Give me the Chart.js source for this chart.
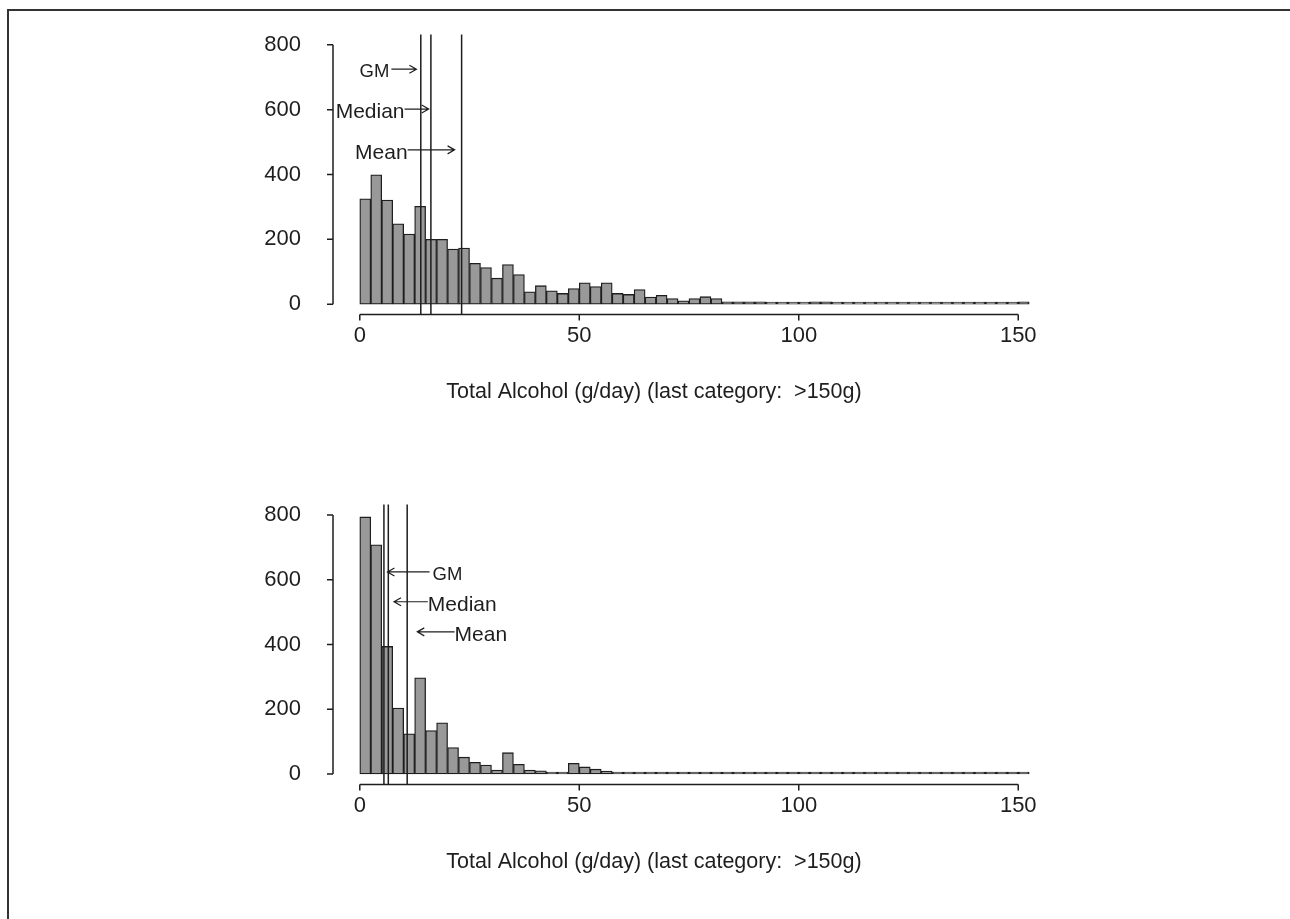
<!DOCTYPE html>
<html>
<head>
<meta charset="utf-8">
<script src="https://cdn.jsdelivr.net/npm/chart.js@4"></script>
<style>
  html, body { margin: 0; padding: 0; background: #fff; }
  #page { position: relative; width: 1290px; height: 919px; overflow: hidden; }
  #frame { position: absolute; left: 7px; top: 9px; width: 1300px; height: 930px;
           border-top: 2px solid #333; border-left: 2px solid #333; }
  canvas { position: absolute; left: 0; }
</style>
</head>
<body>
<div id="page">
  <div id="frame"></div>
  <canvas id="upper" width="1290" height="460" style="top:0"></canvas>
  <canvas id="lower" width="1290" height="459" style="top:460px"></canvas>
</div>
<script>
// bin midpoints, g/day (2.5 g bins, last bin = >150g)
const binMid = [1.25, 3.75, 6.25, 8.75, 11.25, 13.75, 16.25, 18.75, 21.25, 23.75,
  26.25, 28.75, 31.25, 33.75, 36.25, 38.75, 41.25, 43.75, 46.25, 48.75,
  51.25, 53.75, 56.25, 58.75, 61.25, 63.75, 66.25, 68.75, 71.25, 73.75,
  76.25, 78.75, 81.25, 83.75, 86.25, 88.75, 91.25, 93.75, 96.25, 98.75,
  101.25, 103.75, 106.25, 108.75, 111.25, 113.75, 116.25, 118.75, 121.25, 123.75,
  126.25, 128.75, 131.25, 133.75, 136.25, 138.75, 141.25, 143.75, 146.25, 148.75,
  151.25];

const countsUpper = [325, 399, 321, 248, 216, 302, 200, 200, 170, 173,
  126, 113, 80, 122, 91, 38, 57, 41, 33, 48,
  66, 54, 66, 33, 30, 45, 22, 27, 17, 10,
  17, 23, 17, 7, 7, 7, 7, 3, 3, 3,
  3, 7, 7, 2, 2, 1, 2, 2, 1, 2,
  2, 1, 1, 2, 1, 1, 1, 2, 2, 2,
  7];

const countsLower = [794, 708, 394, 204, 124, 297, 134, 158, 82, 52,
  36, 28, 12, 66, 30, 12, 10, 6, 5, 33,
  22, 15, 9, 4, 6, 5, 5, 4, 2, 2,
  1, 3, 1, 1, 4, 1, 1, 2, 1, 1,
  1, 2, 2, 2, 1, 1, 1, 1, 1, 1,
  1, 1, 1, 1, 1, 1, 1, 1, 1, 1,
  4];

const xTicks = [0, 50, 100, 150];
const yTicks = [0, 200, 400, 600, 800];
const xLabel = 'Total Alcohol (g/day) (last category:  >150g)';

const statNames = ['GM', 'Median', 'Mean'];
const statsUpper = [13.9, 16.2, 23.2];
const statsLower = [5.5, 6.5, 10.8];

// arrow placement for the labels, in data units
const notesUpper = [
  { from: 7.2, to: 12.9, y: 725 },
  { from: 10.2, to: 15.7, y: 602 },
  { from: 10.9, to: 21.6, y: 476 }
];
const notesLower = [
  { from: 15.9, to: 6.3, y: 624 },
  { from: 15.5, to: 7.8, y: 532 },
  { from: 21.6, to: 13.1, y: 439 }
];

const ink = '#1e1e1e';
const family = '"Liberation Sans", Arial, sans-serif';

function arrow(ctx, x0, x1, y) {
  const dir = x1 > x0 ? 1 : -1;
  ctx.beginPath();
  ctx.moveTo(x0, y);
  ctx.lineTo(x1, y);
  ctx.moveTo(x1 - dir * 7, y - 4);
  ctx.lineTo(x1, y);
  ctx.lineTo(x1 - dir * 7, y + 4);
  ctx.stroke();
}

const rStyle = {
  id: 'rStyle',
  afterDraw(chart, args, opts) {
    const { ctx, chartArea: a, scales: { x, y } } = chart;
    ctx.save();
    ctx.strokeStyle = ink;
    ctx.lineWidth = 1.5;

    // axes like R: lines only between first and last tick
    ctx.beginPath();
    ctx.moveTo(x.getPixelForValue(xTicks[0]), a.bottom);
    ctx.lineTo(x.getPixelForValue(xTicks[xTicks.length - 1]), a.bottom);
    xTicks.forEach(v => {
      const px = x.getPixelForValue(v);
      ctx.moveTo(px, a.bottom);
      ctx.lineTo(px, a.bottom + 6);
    });
    ctx.moveTo(a.left, y.getPixelForValue(yTicks[0]));
    ctx.lineTo(a.left, y.getPixelForValue(yTicks[yTicks.length - 1]));
    yTicks.forEach(v => {
      const py = y.getPixelForValue(v);
      ctx.moveTo(a.left, py);
      ctx.lineTo(a.left - 6, py);
    });
    ctx.stroke();

    // GM / median / mean lines
    ctx.beginPath();
    opts.stats.forEach(v => {
      const px = x.getPixelForValue(v);
      ctx.moveTo(px, a.top);
      ctx.lineTo(px, a.bottom);
    });
    ctx.stroke();

    // labels with arrows
    ctx.lineWidth = 1.2;
    ctx.fillStyle = ink;
    ctx.textBaseline = 'middle';
    opts.notes.forEach((n, i) => {
      const x0 = x.getPixelForValue(n.from);
      const x1 = x.getPixelForValue(n.to);
      const py = y.getPixelForValue(n.y);
      arrow(ctx, x0, x1, py);
      ctx.font = (statNames[i] === 'GM' ? '18.5px ' : '21px ') + family;
      if (x1 > x0) {
        ctx.textAlign = 'right';
        ctx.fillText(statNames[i], x0 - (i === 0 ? 2 : 0), py + 3);
      } else {
        ctx.textAlign = 'left';
        ctx.fillText(statNames[i], x0 + (i === 0 ? 3 : 0), py + 3);
      }
    });

    // axis title
    ctx.font = '21.5px ' + family;
    ctx.textAlign = 'center';
    ctx.fillText(xLabel, 654, a.bottom + 78);
    ctx.restore();
  }
};

function makeHist(id, counts, stats, notes, areaTop, areaBottom) {
  const canvas = document.getElementById(id);
  return new Chart(canvas, {
    type: 'bar',
    data: {
      datasets: [{
        data: binMid.map((m, i) => ({ x: m, y: counts[i] })),
        backgroundColor: '#999999',
        borderColor: ink,
        borderWidth: 1.3,
        borderSkipped: false,
        minBarLength: 2,
        barPercentage: 1,
        categoryPercentage: 1
      }]
    },
    options: {
      responsive: false,
      animation: false,
      layout: { padding: { top: areaTop, right: 234, left: 0, bottom: 0 } },
      plugins: {
        legend: { display: false },
        tooltip: { enabled: false },
        rStyle: { stats, notes }
      },
      scales: {
        x: {
          type: 'linear',
          offset: false,
          min: -6.1,
          max: 158.6,
          grid: { display: false, tickLength: 8 },
          border: { display: false },
          afterBuildTicks: s => { s.ticks = xTicks.map(v => ({ value: v })); },
          afterFit: s => { s.height = canvas.height - areaBottom; },
          ticks: { color: ink, padding: 0, maxRotation: 0, autoSkip: false,
                   font: { family, size: 22 } }
        },
        y: {
          min: -32,
          max: 832,
          grid: { display: false, tickLength: 29 },
          border: { display: false },
          afterBuildTicks: s => { s.ticks = yTicks.map(v => ({ value: v })); },
          afterFit: s => { s.width = 333; },
          ticks: { color: ink, padding: 3, font: { family, size: 22 } }
        }
      }
    },
    plugins: [rStyle]
  });
}

makeHist('upper', countsUpper, statsUpper, notesUpper, 34.5, 314.5);
makeHist('lower', countsLower, statsLower, notesLower, 44.6, 324.4);
</script>
</body>
</html>
